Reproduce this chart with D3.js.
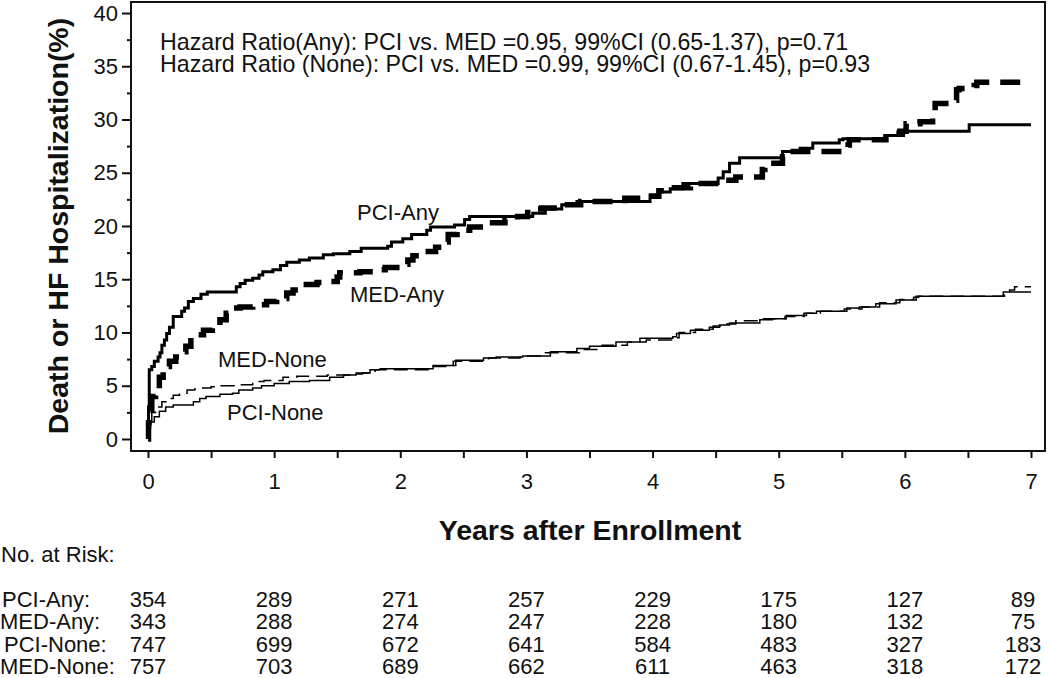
<!DOCTYPE html>
<html>
<head>
<meta charset="utf-8">
<script src="https://cdn.jsdelivr.net/npm/d3@7"></script>
<style>
  html, body { margin: 0; padding: 0; background: #fff; }
  svg { display: block; }
  text { font-family: "Liberation Sans", Arial, sans-serif; fill: #111; }
</style>
</head>
<body>
<svg id="chart" width="1050" height="678"></svg>
<script>
// ---------- data ----------
const xTicks = [0, 1, 2, 3, 4, 5, 6, 7];
const xMinorTicks = [0.5, 1.5, 2.5, 3.5, 4.5, 5.5, 6.5];
const yTicks = [0, 5, 10, 15, 20, 25, 30, 35, 40];
const yMinorTicks = [2.5, 7.5, 12.5, 17.5, 22.5, 27.5, 32.5, 37.5];

// [years, cumulative %] step events
const pciAny = [
  [0,0],[0.004,3.0],[0.01,6.5],[0.03,6.8],[0.05,7.3],[0.08,7.7],[0.095,8.1],[0.11,8.8],
  [0.13,9.3],[0.148,9.9],[0.17,10.5],[0.2,11.5],[0.267,12.0],[0.29,12.3],[0.32,12.9],
  [0.36,13.2],[0.42,13.6],[0.47,13.8],[0.70,14.3],[0.73,14.6],[0.77,14.9],[0.83,15.1],
  [0.88,15.4],[0.91,15.7],[0.99,15.9],[1.05,16.3],[1.10,16.6],[1.20,16.8],[1.28,17.0],
  [1.39,17.3],[1.47,17.4],[1.60,17.6],[1.69,17.9],[1.90,18.1],[1.93,18.5],[2.02,18.8],
  [2.09,19.2],[2.21,19.6],[2.24,19.9],[2.43,20.1],[2.51,20.6],[2.55,20.9],[3.05,21.2],
  [3.15,21.6],[3.28,22.0],[3.40,22.3],[3.98,22.9],[4.05,23.2],[4.14,23.5],[4.24,24.0],
  [4.52,24.5],[4.56,25.1],[4.61,25.9],[4.69,26.4],[5.03,27.0],[5.17,27.3],[5.27,27.8],
  [5.48,28.1],[5.51,28.2],[5.85,28.5],[5.99,28.9],[6.51,29.5],[7.0,29.5]
];
const medAny = [
  [0,0],[0.004,1.5],[0.008,2.7],[0.03,4.0],[0.06,4.6],[0.09,5.8],[0.12,6.8],[0.17,7.3],
  [0.22,7.7],[0.26,8.2],[0.30,8.7],[0.34,9.5],[0.40,9.8],[0.44,10.2],[0.51,10.7],
  [0.57,11.2],[0.62,11.8],[0.65,12.3],[0.73,12.4],[0.83,12.6],[0.94,12.9],[1.02,13.2],
  [1.10,13.7],[1.15,14.0],[1.23,14.5],[1.34,14.7],[1.44,14.8],[1.50,15.2],[1.52,15.6],
  [1.68,15.7],[1.80,15.9],[1.88,16.1],[2.02,16.4],[2.06,16.8],[2.10,17.2],[2.20,17.6],
  [2.28,18.0],[2.34,18.5],[2.38,19.2],[2.45,19.6],[2.55,19.9],[2.66,20.3],[2.83,20.6],
  [2.93,20.9],[3.01,21.6],[3.12,21.7],[3.27,22.0],[3.43,22.3],[3.70,22.4],[3.78,22.6],
  [3.95,22.8],[4.05,23.3],[4.14,23.6],[4.30,24.0],[4.56,24.3],[4.66,24.6],[4.87,25.3],
  [4.89,25.9],[5.03,26.5],[5.08,27.0],[5.55,27.6],[5.56,28.1],[5.85,28.7],[5.96,28.9],
  [6.01,29.6],[6.12,29.8],[6.22,30.6],[6.24,31.5],[6.36,31.8],[6.41,32.8],[6.43,32.9],
  [6.55,33.2],[6.57,33.5],[7.0,33.5]
];
const pciNone = [
  [0,0],[0.005,1.0],[0.02,1.6],[0.05,2.1],[0.09,2.6],[0.14,3.0],[0.20,3.2],[0.36,3.5],
  [0.41,3.8],[0.46,4.0],[0.57,4.2],[0.67,4.3],[0.72,4.6],[0.83,4.8],[0.90,5.0],[1.00,5.2],
  [1.12,5.4],[1.28,5.5],[1.44,5.8],[1.55,6.0],[1.65,6.2],[1.76,6.5],[1.84,6.6],[2.26,6.9],
  [2.44,7.4],[2.66,7.6],[2.76,7.7],[2.97,7.8],[3.19,8.2],[3.40,8.5],[3.50,8.7],[3.71,9.1],
  [3.90,9.45],[4.16,9.6],[4.19,9.9],[4.30,10.2],[4.45,10.5],[4.53,10.7],[4.61,10.9],
  [4.85,11.2],[4.95,11.3],[5.06,11.6],[5.22,11.8],[5.30,12.0],[5.54,12.3],[5.64,12.4],
  [5.77,12.7],[5.93,13.05],[6.09,13.4],[6.78,13.8],[7.0,13.8]
];
const medNone = [
  [0,0],[0.01,1.5],[0.03,2.5],[0.06,3.0],[0.11,3.5],[0.15,3.8],[0.20,4.1],[0.25,4.3],
  [0.31,4.6],[0.37,4.7],[0.42,4.8],[0.50,4.9],[0.58,5.0],[0.70,5.1],[0.83,5.4],[0.92,5.5],
  [1.07,5.8],[1.18,5.9],[1.42,6.0],[1.60,6.1],[1.70,6.2],[1.80,6.5],[2.26,6.8],[2.42,7.3],
  [2.70,7.6],[2.95,7.8],[3.15,8.1],[3.42,8.4],[3.60,8.8],[3.80,9.1],[3.95,9.3],[4.15,9.5],
  [4.21,10.0],[4.34,10.3],[4.48,10.6],[4.56,10.8],[4.66,11.1],[4.88,11.3],[5.05,11.5],
  [5.20,11.8],[5.33,12.0],[5.52,12.2],[5.66,12.4],[5.80,12.8],[5.96,13.1],[6.07,13.3],
  [6.11,13.4],[6.79,13.7],[6.83,14.0],[6.87,14.3],[7.0,14.3]
];

const hazardLines = [
  "Hazard Ratio(Any): PCI vs. MED =0.95, 99%CI (0.65-1.37), p=0.71",
  "Hazard Ratio (None): PCI vs. MED =0.99, 99%CI (0.67-1.45), p=0.93"
];
const riskGroups = ["PCI-Any:", "MED-Any:", "PCI-None:", "MED-None:"];
const riskPciAny  = [354, 289, 271, 257, 229, 175, 127, 89];
const riskMedAny  = [343, 288, 274, 247, 228, 180, 132, 75];
const riskPciNone = [747, 699, 672, 641, 584, 483, 327, 183];
const riskMedNone = [757, 703, 689, 662, 611, 463, 318, 172];

// ---------- layout ----------
const svg = d3.select("#chart");
const frame = { left: 131, top: 2, right: 1045, bottom: 451 };
const x = d3.scaleLinear().domain([0, 7]).range([148, 1031]);
const y = d3.scaleLinear().domain([0, 40]).range([439, 13]);
const FONT = 22;

// clip
svg.append("defs").append("clipPath").attr("id", "plotclip")
  .append("rect").attr("x", frame.left).attr("y", frame.top)
  .attr("width", frame.right - frame.left).attr("height", frame.bottom - frame.top);

// y axis
const yAxis = svg.append("g").attr("transform", `translate(${frame.left},0)`)
  .call(d3.axisLeft(y).tickValues(yTicks).tickSize(9).tickPadding(4).tickFormat(d3.format("d")));
yAxis.select(".domain").remove();
yAxis.selectAll("line").attr("stroke", "#111").attr("stroke-width", 2);
yAxis.selectAll("text").style("font-size", FONT + "px").attr("fill", "#111");
const yMinor = svg.append("g").attr("transform", `translate(${frame.left},0)`)
  .call(d3.axisLeft(y).tickValues(yMinorTicks).tickSize(4).tickFormat(""));
yMinor.select(".domain").remove();
yMinor.selectAll("line").attr("stroke", "#111").attr("stroke-width", 2);

// x axis
const xAxis = svg.append("g").attr("transform", `translate(0,${frame.bottom})`)
  .call(d3.axisBottom(x).tickValues(xTicks).tickSize(7).tickPadding(15).tickFormat(d3.format("d")));
xAxis.select(".domain").remove();
xAxis.selectAll("line").attr("stroke", "#111").attr("stroke-width", 2);
xAxis.selectAll("text").style("font-size", FONT + "px").attr("fill", "#111");
const xMinor = svg.append("g").attr("transform", `translate(0,${frame.bottom})`)
  .call(d3.axisBottom(x).tickValues(xMinorTicks).tickSize(7).tickFormat(""));
xMinor.select(".domain").remove();
xMinor.selectAll("line").attr("stroke", "#111").attr("stroke-width", 2);

// frame
svg.append("rect")
  .attr("x", frame.left).attr("y", frame.top)
  .attr("width", frame.right - frame.left).attr("height", frame.bottom - frame.top)
  .attr("fill", "none").attr("stroke", "#111").attr("stroke-width", 2);

// curves
const line = d3.line().x(d => x(d[0])).y(d => y(d[1])).curve(d3.curveStepAfter);
const curves = svg.append("g").attr("clip-path", "url(#plotclip)");
const series = [
  { data: pciNone, w: 1.5, dash: null },
  { data: medNone, w: 1.5, dash: "14,7" },
  { data: pciAny,  w: 3,   dash: null },
  { data: medAny,  w: 5.5, dash: "20,11" }
];
series.forEach(s => {
  curves.append("path").datum(s.data)
    .attr("d", line)
    .attr("fill", "none")
    .attr("stroke", "#000")
    .attr("stroke-width", s.w)
    .attr("stroke-dasharray", s.dash)
    .attr("stroke-linejoin", "miter");
});

// curve labels
const curveLabels = [
  { text: "PCI-Any", x: 357, y: 220 },
  { text: "MED-Any", x: 350, y: 302 },
  { text: "MED-None", x: 218, y: 367 },
  { text: "PCI-None", x: 227, y: 420 }
];
svg.append("g").selectAll("text").data(curveLabels).join("text")
  .attr("x", d => d.x).attr("y", d => d.y)
  .style("font-size", FONT + "px")
  .text(d => d.text);

// hazard text
svg.append("g").selectAll("text").data(hazardLines).join("text")
  .attr("x", 160).attr("y", (d, i) => 50 + i * 22)
  .style("font-size", "23.2px")
  .text(d => d);

// axis titles
svg.append("text")
  .attr("transform", "translate(68,226) rotate(-90)")
  .attr("text-anchor", "middle")
  .style("font-size", "28.5px").style("font-weight", "bold")
  .text("Death or HF Hospitalization(%)");
svg.append("text")
  .attr("x", 590).attr("y", 540)
  .attr("text-anchor", "middle")
  .style("font-size", "28.5px").style("font-weight", "bold")
  .text("Years after Enrollment");

// risk table
svg.append("text").attr("x", 1).attr("y", 562).style("font-size", FONT + "px").text("No. at Risk:");
const riskRows = [riskPciAny, riskMedAny, riskPciNone, riskMedNone];
const rowY = [607, 629, 652, 674];
const labelX = [2, 0, 4, 0];
const table = svg.append("g");
riskGroups.forEach((g, i) => {
  table.append("text").attr("x", labelX[i]).attr("y", rowY[i])
    .style("font-size", FONT + "px").text(g);
  table.selectAll(null).data(riskRows[i]).join("text")
    .attr("x", (d, j) => x(xTicks[j]) + (j === xTicks.length - 1 ? -8 : 0))
    .attr("y", rowY[i])
    .attr("text-anchor", "middle")
    .style("font-size", FONT + "px")
    .text(d => d);
});
</script>
</body>
</html>
